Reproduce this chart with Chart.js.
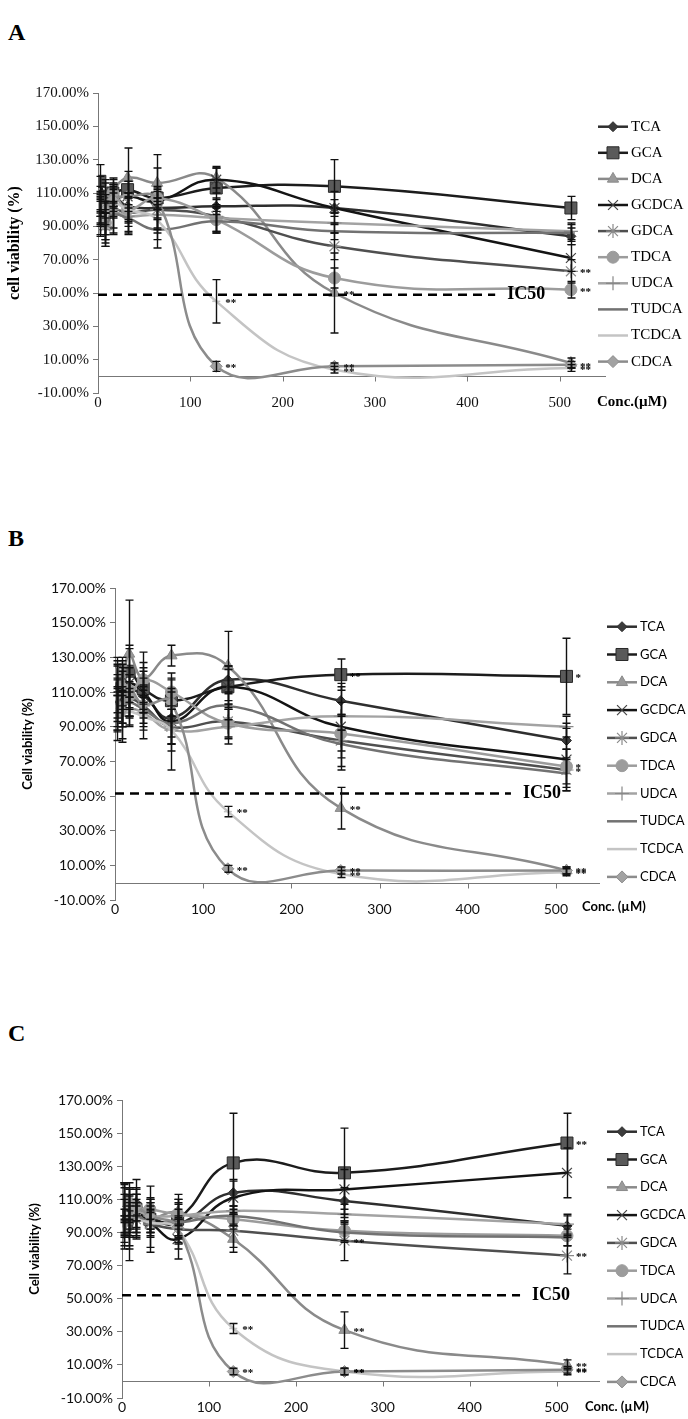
<!DOCTYPE html>
<html>
<head>
<meta charset="utf-8">
<script src="https://cdn.jsdelivr.net/npm/chart.js@4.4.1/dist/chart.umd.min.js"></script>
<style>
  body { margin: 0; background: #fff; width: 688px; height: 1419px; position: relative; overflow: hidden; }
  .panel { position: absolute; left: 0; width: 688px; }
  .letter { position: absolute; left: 8px; font: bold 24px "Liberation Serif", serif; line-height: 1; color: #000; }
</style>
</head>
<body>
<div class="letter" style="top:20px">A</div>
<div class="letter" style="top:526px">B</div>
<div class="letter" style="top:1021px">C</div>
<div class="panel" style="top:0px"><canvas id="chartA" width="688" height="440"></canvas></div>
<div class="panel" style="top:480px"><canvas id="chartB" width="688" height="460"></canvas></div>
<div class="panel" style="top:960px"><canvas id="chartC" width="688" height="459"></canvas></div>
<script>
// --- DATA ---

const concentrations = [2, 8, 16, 32, 64, 128, 256, 512]; //   µM
const seriesNames = ["TCA", "GCA", "DCA", "GCDCA", "GDCA", "TDCA", "UDCA", "TUDCA", "TCDCA", "CDCA"];
const xTicks = [0, 100, 200, 300, 400, 500];

// rows follow seriesNames, columns follow concentrations (cell viability %)
const viabilityA = [
  [105, 100, 108, 102, 101, 102, 101, 84],
  [117, 108, 110, 112, 107, 113, 114, 101],
  [100, 95, 110, 119, 116, 119, 50, 8],
  [108, 98, 105, 108, 105, 118, 101, 71],
  [95, 90, 100, 98, 100, 96, 78, 63],
  [106, 92, 110, 100, 107, 94, 59, 52],
  [100, 88, 98, 96, 97, 95, 92, 87],
  [92, 90, 97, 95, 88, 93, 87, 86],
  [98, 95, 104, 100, 94, 45, 4, 5],
  [103, 100, 106, 108, 106, 6, 6, 7],
];
const errorA = [
  [6, 5, 6, 8, 6, 5, 5, 5],
  [10, 8, 6, 5, 4, 12, 16, 7],
  [8, 10, 9, 18, 9, 6, 24, 3],
  [12, 20, 10, 15, 28, 8, 10, 8],
  [10, 8, 15, 12, 14, 10, 8, 7],
  [8, 12, 8, 10, 6, 8, 6, 5],
  [9, 10, 12, 11, 8, 8, 6, 5],
  [8, 8, 8, 8, 6, 6, 5, 5],
  [8, 10, 8, 8, 6, 13, 2, 2],
  [7, 9, 7, 9, 6, 3, 2, 2],
];
const viabilityB = [
  [105, 110, 112, 108, 95, 117, 105, 82],
  [110, 112, 122, 112, 105, 113, 120, 119],
  [118, 110, 132, 118, 131, 125, 43, 7],
  [104, 108, 115, 110, 93, 113, 90, 71],
  [102, 98, 106, 102, 90, 93, 82, 65],
  [120, 112, 108, 117, 110, 92, 86, 67],
  [100, 96, 100, 98, 88, 90, 96, 90],
  [103, 100, 104, 100, 92, 102, 80, 63],
  [98, 100, 99, 96, 88, 41, 5, 6],
  [108, 100, 112, 103, 104, 8, 7, 7],
];
const errorB = [
  [15, 18, 12, 10, 15, 8, 8, 10],
  [15, 10, 15, 12, 12, 10, 9, 22],
  [10, 20, 31, 15, 6, 20, 12, 2],
  [22, 18, 20, 12, 28, 12, 25, 18],
  [15, 15, 10, 12, 10, 10, 15, 12],
  [10, 12, 12, 10, 8, 8, 10, 10],
  [12, 15, 10, 15, 12, 10, 8, 6],
  [10, 10, 8, 8, 8, 8, 8, 8],
  [10, 8, 8, 8, 8, 3, 2, 2],
  [10, 10, 8, 8, 8, 2, 2, 2],
];
const viabilityC = [
  [100, 105, 108, 100, 95, 114, 109, 94],
  [102, 100, 104, 98, 98, 132, 126, 144],
  [108, 106, 100, 98, 102, 86, 31, 10],
  [100, 95, 102, 96, 86, 111, 116, 126],
  [92, 90, 98, 95, 92, 91, 85, 76],
  [110, 108, 105, 104, 101, 98, 91, 88],
  [104, 100, 103, 100, 100, 103, 101, 95],
  [96, 95, 100, 96, 96, 100, 90, 87],
  [105, 100, 98, 96, 92, 32, 6, 6],
  [90, 98, 105, 100, 93, 6, 6, 7],
];
const errorC = [
  [10, 8, 8, 10, 15, 8, 8, 6],
  [15, 20, 18, 20, 15, 30, 27, 18],
  [12, 10, 10, 8, 8, 8, 11, 3],
  [20, 22, 15, 15, 12, 10, 12, 15],
  [8, 8, 10, 8, 8, 10, 12, 11],
  [10, 8, 8, 6, 6, 6, 6, 6],
  [15, 12, 10, 8, 8, 8, 6, 6],
  [8, 8, 8, 8, 8, 6, 6, 5],
  [8, 8, 8, 6, 6, 3, 2, 2],
  [8, 8, 8, 8, 6, 2, 2, 2],
];

// IC50 reference line: [level %, end concentration]
const ic50A = [49, 430];
const ic50B = [51.5, 449];
const ic50C = [52, 458];

// significance marks: [series index, concentration index, text]
const starsA = [[8, 5, "**"], [9, 5, "**"], [2, 6, "**"], [9, 6, "**"], [8, 6, "**"], [4, 7, "**"], [5, 7, "**"], [9, 7, "**"], [8, 7, "**"]];
const starsB = [[1, 6, "**"], [1, 7, "*"], [5, 7, "*"], [4, 7, "*"], [8, 5, "**"], [9, 5, "**"], [2, 6, "**"], [9, 6, "**"], [8, 6, "**"], [9, 7, "**"], [8, 7, "**"]];
const starsC = [[1, 7, "**"], [4, 6, "**"], [4, 7, "**"], [8, 5, "**"], [9, 5, "**"], [2, 6, "**"], [9, 6, "**"], [8, 6, "**"], [2, 7, "**"], [9, 7, "**"], [8, 7, "**"]];

// --- STYLES ---

const seriesStyles = [
  { line: "#2e2e2e", point: "#3c3c3c", border: "#2e2e2e", shape: "rectRot", r: 5, bw: 1 },
  { line: "#1c1c1c", point: "#5a5a5a", border: "#2a2a2a", shape: "rect", r: 8.5, bw: 1 },
  { line: "#8a8a8a", point: "#9a9a9a", border: "#8a8a8a", shape: "triangle", r: 6.5, bw: 1 },
  { line: "#141414", point: "#444444", border: "#444444", shape: "crossRot", r: 7, bw: 1.2 },
  { line: "#4f4f4f", point: "#8a8a8a", border: "#8a8a8a", shape: "star", r: 7, bw: 1.2 },
  { line: "#9c9c9c", point: "#9c9c9c", border: "#9c9c9c", shape: "circle", r: 6, bw: 1 },
  { line: "#a3a3a3", point: "#888888", border: "#888888", shape: "cross", r: 7, bw: 1.2 },
  { line: "#727272", point: "#727272", border: "#727272", shape: "line", r: 4, bw: 1.5 },
  { line: "#c4c4c4", point: "#c4c4c4", border: "#c4c4c4", shape: "line", r: 4, bw: 1.5 },
  { line: "#8c8c8c", point: "#a2a2a2", border: "#8c8c8c", shape: "rectRot", r: 6, bw: 1 },
];

const SERIF = '"Liberation Serif", "Times New Roman", serif';
const SANS = 'Lato, "Open Sans", sans-serif';

const panels = [
  {
    id: "chartA", top: 0, values: viabilityA, errors: errorA, ic50: ic50A, stars: starsA,
    axisLeft: 98, padding: { top: 93, right: 82, bottom: 27, left: 0 },
    tickFont: { family: SERIF, size: 15 }, yTitle: "cell viability (%)",
    titleFont: { family: SERIF, size: 16, weight: "bold" }, titlePad: 5,
    concText: "Conc.(µM)", concFont: "bold 15px " + SERIF, concPos: [597, 402],
    legend: { x: 598, y0: 126.7, dy: 26.1, font: "15px " + SERIF },
  },
  {
    id: "chartB", top: 480, values: viabilityB, errors: errorB, ic50: ic50B, stars: starsB,
    axisLeft: 115, padding: { top: 108, right: 88, bottom: 20, left: 0 },
    tickFont: { family: SANS, size: 14 }, yTitle: "Cell viability (%)",
    titleFont: { family: SANS, size: 13, weight: "bold" }, titlePad: 20,
    concText: "Conc. (µM)", concFont: "bold 13px " + SANS, concPos: [582, 907],
    legend: { x: 607, y0: 626.7, dy: 27.8, font: "13px " + SANS },
  },
  {
    id: "chartC", top: 960, values: viabilityC, errors: errorC, ic50: ic50C, stars: starsC,
    axisLeft: 122, padding: { top: 140, right: 88, bottom: 1, left: 0 },
    tickFont: { family: SANS, size: 14 }, yTitle: "Cell viability (%)",
    titleFont: { family: SANS, size: 13, weight: "bold" }, titlePad: 27,
    concText: "Conc. (µM)", concFont: "bold 13px " + SANS, concPos: [585, 1407],
    legend: { x: 607, y0: 1131.7, dy: 27.8, font: "13px " + SANS },
  },
];

// --- CHART ---

function drawMarker(ctx, st, x, y) {
  ctx.fillStyle = st.point;
  ctx.strokeStyle = st.border;
  ctx.lineWidth = st.bw;
  Chart.helpers.drawPoint(ctx, { pointStyle: st.shape, radius: st.r, rotation: 0, borderWidth: st.bw }, x, y);
}

function makeExtras(panel) {
  return {
    id: "extras",
    beforeDatasetsDraw(chart) {
      const { ctx, chartArea: a, scales: { x, y } } = chart;
      const y0 = Math.round(y.getPixelForValue(0)) + 0.5;
      ctx.save();
      ctx.strokeStyle = "#777";
      ctx.lineWidth = 1;
      ctx.beginPath();
      ctx.moveTo(a.left, y0);
      ctx.lineTo(a.right, y0);
      xTicks.forEach((v) => {
        if (v === 0) return;
        const px = Math.round(x.getPixelForValue(v)) + 0.5;
        ctx.moveTo(px, y0);
        ctx.lineTo(px, y0 + 5);
      });
      ctx.stroke();
      ctx.restore();
    },
    afterDatasetsDraw(chart) {
      const { ctx, scales: { x, y } } = chart;
      ctx.save();
      // error bars
      ctx.strokeStyle = "#111";
      ctx.lineWidth = 1.4;
      panel.values.forEach((row, s) => {
        row.forEach((v, i) => {
          const e = panel.errors[s][i];
          const px = Math.round(x.getPixelForValue(concentrations[i])) + 0.5;
          const t = y.getPixelForValue(v + e);
          const b = y.getPixelForValue(v - e);
          ctx.beginPath();
          ctx.moveTo(px, t);
          ctx.lineTo(px, b);
          ctx.moveTo(px - 4, t);
          ctx.lineTo(px + 4, t);
          ctx.moveTo(px - 4, b);
          ctx.lineTo(px + 4, b);
          ctx.stroke();
        });
      });
      // significance marks
      ctx.fillStyle = "#000";
      ctx.font = "bold 11px " + SERIF;
      ctx.textBaseline = "middle";
      panel.stars.forEach(([s, i, txt]) => {
        const px = x.getPixelForValue(concentrations[i]);
        const py = y.getPixelForValue(panel.values[s][i]);
        ctx.fillText(txt, px + 9, py + 2);
      });
      ctx.restore();
    },
    afterDraw(chart) {
      const { ctx, scales: { x, y } } = chart;
      ctx.save();
      ctx.fillStyle = "#000";
      ctx.textBaseline = "middle";
      // IC50 label
      ctx.font = "bold 18px " + SERIF;
      ctx.fillText("IC50", x.getPixelForValue(panel.ic50[1]) + 12, y.getPixelForValue(panel.ic50[0]));
      // x axis title
      ctx.font = panel.concFont;
      ctx.fillText(panel.concText, panel.concPos[0], panel.concPos[1] - panel.top);
      // legend
      const L = panel.legend;
      seriesNames.forEach((name, s) => {
        const st = seriesStyles[s];
        const yy = L.y0 + s * L.dy - panel.top;
        ctx.strokeStyle = st.line;
        ctx.lineWidth = 2.5;
        ctx.beginPath();
        ctx.moveTo(L.x, yy);
        ctx.lineTo(L.x + 30, yy);
        ctx.stroke();
        if (st.shape !== "line") drawMarker(ctx, st, L.x + 15, yy);
        ctx.fillStyle = "#000";
        ctx.font = L.font;
        ctx.fillText(name, L.x + 33, yy);
      });
      ctx.restore();
    },
  };
}

function createChart(panel) {
  const datasets = seriesNames.map((name, s) => {
    const st = seriesStyles[s];
    return {
      label: name,
      data: concentrations.map((c, i) => ({ x: c, y: panel.values[s][i] })),
      borderColor: st.line,
      borderWidth: 2.5,
      tension: 0.45,
      pointStyle: st.shape,
      pointRadius: st.r,
      pointBackgroundColor: st.point,
      pointBorderColor: st.border,
      pointBorderWidth: st.bw,
      order: 11 - s, //                later series drawn on top
    };
  });
  datasets.push({
    label: "IC50",
    data: [{ x: 0, y: panel.ic50[0] }, { x: panel.ic50[1], y: panel.ic50[0] }],
    borderColor: "#000",
    borderWidth: 2.5,
    borderDash: [9, 6],
    pointRadius: 0,
    tension: 0,
    order: 0,
  });

  new Chart(document.getElementById(panel.id), {
    type: "line",
    data: { datasets: datasets },
    options: {
      responsive: false,
      animation: false,
      layout: { padding: panel.padding },
      plugins: { legend: { display: false }, tooltip: { enabled: false } },
      scales: {
        x: {
          type: "linear",
          min: 0,
          max: 550,
          grid: { display: false, drawTicks: false },
          border: { display: false },
          ticks: {
            stepSize: 100,
            padding: 1,
            color: "#111",
            font: panel.tickFont,
            maxRotation: 0,
            autoSkip: false,
            callback: (v) => (xTicks.includes(v) ? v : ""),
          },
          afterFit: (scale) => { scale.height = 20; },
        },
        y: {
          min: -10,
          max: 170,
          grid: { drawOnChartArea: false, drawTicks: true, tickLength: 5, color: "#777" },
          border: { display: true, color: "#777", width: 1 },
          ticks: {
            stepSize: 20,
            padding: 4,
            color: "#111",
            font: panel.tickFont,
            callback: (v) => v.toFixed(2) + "%",
          },
          title: {
            display: true,
            text: panel.yTitle,
            color: "#000",
            font: panel.titleFont,
            padding: { top: panel.titlePad, bottom: 0 },
          },
          afterFit: (scale) => { scale.width = panel.axisLeft; },
        },
      },
    },
    plugins: [makeExtras(panel)],
  });
}

panels.forEach(createChart);
</script>
</body>
</html>
